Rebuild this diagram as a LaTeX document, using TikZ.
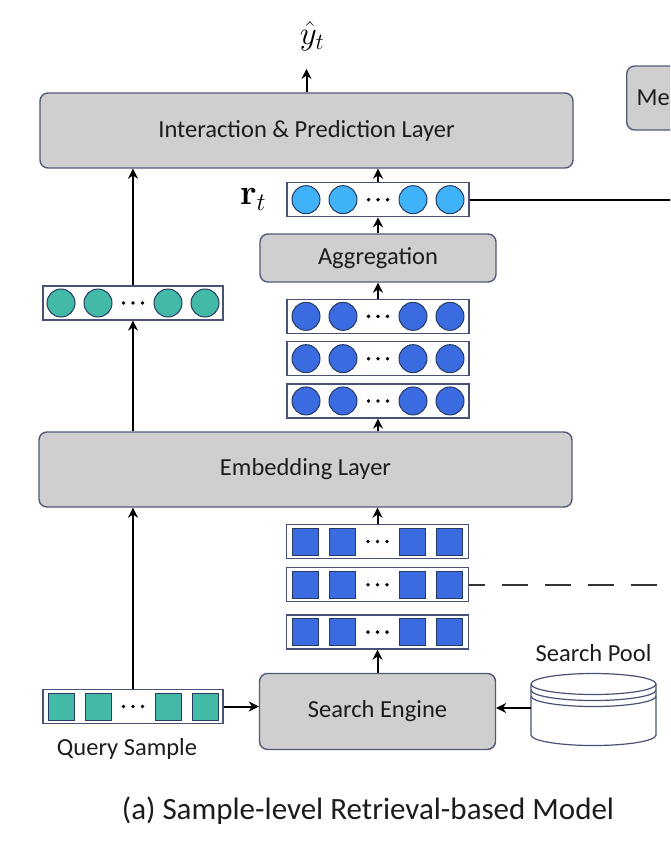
\RequirePackage{fix-cm}
\documentclass[tikz,border=0pt]{standalone}
\usepackage[no-math]{fontspec}
\setmainfont{Carlito}
\usetikzlibrary{arrows.meta,positioning}
\definecolor{boxgray}{RGB}{207,207,207}
\definecolor{boxline}{RGB}{82,90,122}
\definecolor{vecline}{RGB}{72,82,118}
\definecolor{cellline}{RGB}{38,58,98}
\definecolor{lblue}{RGB}{64,178,248}
\definecolor{cblue}{RGB}{59,107,224}
\definecolor{qteal}{RGB}{67,186,168}
\definecolor{txt}{RGB}{28,28,28}
\tikzset{
    %Define standard arrow tip
    >={Stealth[length=10pt,width=10pt]},
    %Define style for grey layers
    layer/.style={
           rectangle, rounded corners=8pt,
           draw=boxline, fill=boxgray, line width=1.4pt,
           text=txt, font=\fontsize{24.5}{29}\selectfont},
    %Define style for vectors
    vec/.style={
           rectangle,
           draw=vecline, fill=white, line width=1.3pt,
           minimum width=182pt, minimum height=34pt, inner sep=0pt},
    cell/.style={circle, draw=cellline, line width=1pt,
           minimum size=28pt, inner sep=0pt},
    sqcell/.style={rectangle, draw=cellline, line width=1pt,
           minimum width=26pt, minimum height=27pt, inner sep=0pt},
    lbl/.style={text=txt, font=\fontsize{24.5}{29}\selectfont},
    % Define arrow style
    pil/.style={->, line width=2pt},
    poolline/.style={draw=vecline, line width=1.2pt}
}
\begin{document}
\begin{tikzpicture}[x=1pt, y=1pt, node distance=16pt]
\useasboundingbox (0,0) rectangle (670,-854);
\clip (0,0) rectangle (670,-854);

%nodes
\node[layer, minimum width=533pt, minimum height=75pt] (ipl) at (306.5,-130.5) {Interaction \& Prediction Layer};
\node[inner sep=0pt, font=\fontsize{33}{36}\selectfont] (yhat) at (312,-36) {$\hat{y}_t$};
\node[layer, anchor=west, minimum width=120pt, minimum height=64pt, text width=100pt, align=left] (mea) at (626,-98) {Mea};
\node[layer, minimum width=236pt, minimum height=48pt] (agg) at (378,-258) {Aggregation};
\node[vec, above=of agg] (rt) {};
\node[left=20pt of rt, inner sep=0pt, font=\fontsize{36}{40}\selectfont] (rtlbl) {$\mathbf{r}_t$};
\node[vec, below=of agg] (cv1) {};
\node[vec, below=7pt of cv1] (cv2) {};
\node[vec, below=7pt of cv2] (cv3) {};
\node[layer, minimum width=533pt, minimum height=75pt] (emb) at (305.5,-469.5) {Embedding Layer};
\node[vec, minimum width=180pt] (tcv) at (133,-303) {};
\node[vec] (sv1) at (377.5,-541.5) {};
\node[vec, below=8pt of sv1] (sv2) {};
\node[vec, below=12pt of sv2] (sv3) {};
\node[layer, minimum width=236pt, minimum height=76pt, below=23pt of sv3] (se) {Search Engine};
\node[vec, minimum width=180pt] (qv) at (133,-706.5) {};
\node[lbl] (qlbl) at (127,-749) {Query Sample};
\node[lbl] (plbl) at (593.5,-653) {Search Pool};
\node[font=\fontsize{31}{37}\selectfont, text=txt] (cap) at (368,-811) {(a) Sample-level Retrieval-based Model};

%vector cells
\foreach \v/\c in {rt/lblue, cv1/cblue, cv2/cblue, cv3/cblue, tcv/qteal}{
    \foreach \o [count=\i] in {-72,-35,35,72}
        \node[cell, fill=\c] (\v-\i) at ([xshift=\o]\v.center) {};
    \foreach \o in {-9.5,0,9.5}
        \fill ([xshift=\o]\v.center) circle (1.9);
}
\foreach \v/\c in {sv1/cblue, sv2/cblue, sv3/cblue, qv/qteal}{
    \foreach \o [count=\i] in {-72,-35,35,72}
        \node[sqcell, fill=\c] (\v-\i) at ([xshift=\o]\v.center) {};
    \foreach \o in {-9.5,0,9.5}
        \fill ([xshift=\o]\v.center) circle (1.9);
}

%search pool
\draw[poolline, fill=white] (531,-684) -- (531,-735)
    arc[start angle=180, end angle=360, x radius=62.5, y radius=10.5] -- (656,-684);
\draw[poolline] (593.5,-684) ellipse [x radius=62.5, y radius=10.5];
\foreach \d in {6,12}
    \draw[poolline] (531,-684-\d) arc[start angle=180, end angle=360, x radius=62.5, y radius=10.5];
\coordinate (pool) at (531,-708);

\coordinate[right=220pt of rt.east] (rtout);
\coordinate[right=220pt of sv2.east] (sv2out);

\draw [pil, shorten >=18pt] (ipl) -- (ipl.north |- yhat.south);
\draw [pil] (rt) -- (rt |- ipl.south);
\draw [pil] (agg) -- (rt);
\draw [pil] (cv1) -- (agg);
\draw [pil] (cv3 |- emb.north) -- (cv3);
\draw [pil] (tcv |- emb.north) -- (tcv);
\draw [pil] (tcv) -- (tcv |- ipl.south);
\draw [pil] (sv1) -- (sv1 |- emb.south);
\draw [pil] (se) -- (sv3);
\draw [pil] (qv) -- (qv -| se.west);
\draw [pil] (qv) -- (qv |- emb.south);
\draw [pil] (pool) -- (pool -| se.east);
\draw [line width=2pt] (rt) -- (rtout);
\draw [line width=2.4pt, draw=black!80, dash pattern=on 26pt off 17pt, dash phase=10pt] (sv2) -- (sv2out);

\end{tikzpicture}
\end{document}
